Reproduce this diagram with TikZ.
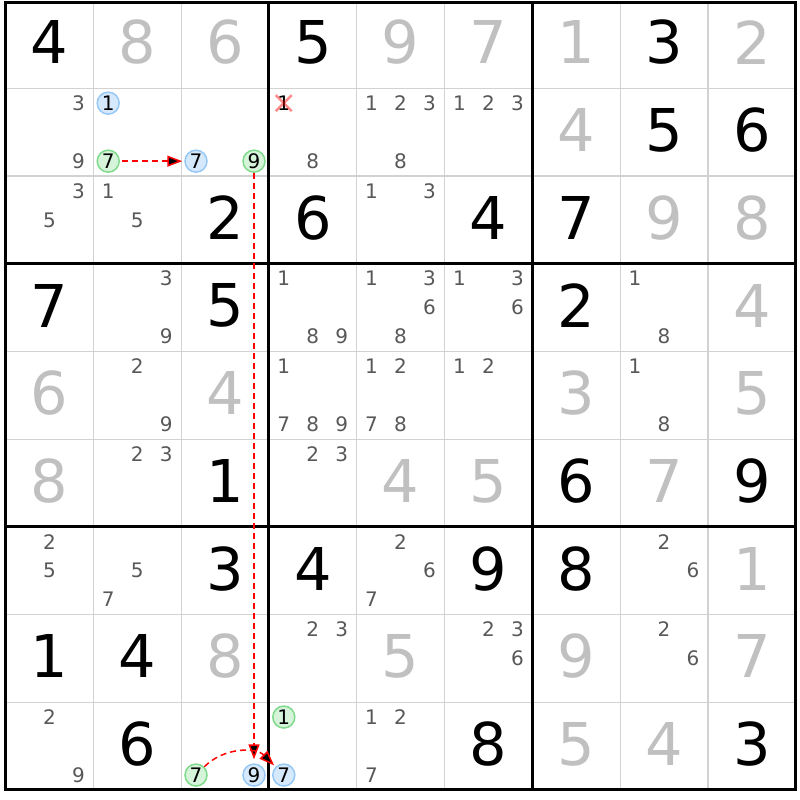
\documentclass[tikz,border=0pt]{standalone}
\usepackage{fontspec}
\setmainfont{DejaVu Sans}
\usetikzlibrary{arrows.meta,calc}
\definecolor{clrgiven}{RGB}{192,192,192}
\definecolor{clrcand}{RGB}{88,88,88}
\definecolor{clrgrid}{RGB}{210,210,210}
\definecolor{clronfill}{RGB}{214,244,218}
\definecolor{clrondraw}{RGB}{128,218,140}
\definecolor{clrofffill}{RGB}{214,233,252}
\definecolor{clroffdraw}{RGB}{150,200,245}
\newcommand{\cellx}[1]{5.5+(#1-0.5)*87.8}
\newcommand{\celly}[1]{0.6+(#1-0.5)*87.7}

\begin{document}
\begin{tikzpicture}[x=1pt,y=-1pt,
  thinline/.style={draw=clrgrid,line width=1.2pt},
  boxline/.style={draw=black,line width=3pt},
  big/.style={font=\fontsize{59}{59}\selectfont,inner sep=0pt},
  cand/.style={font=\fontsize{20}{20}\selectfont,inner sep=0pt,text=clrcand},
  oncand/.style={font=\fontsize{20}{20}\selectfont,circle,inner sep=0pt,minimum size=22pt,
    line width=1.5pt,draw=clrondraw,fill=clronfill},
  offcand/.style={font=\fontsize{20}{20}\selectfont,circle,inner sep=0pt,minimum size=22pt,
    line width=1.5pt,draw=clroffdraw,fill=clrofffill},
  link/.style={draw=red,line width=1.5pt,dash pattern=on 6pt off 4pt,
    -{Triangle[length=15pt,width=11pt]}}]
\useasboundingbox (0,0) rectangle (800,800);
% grid
\foreach \i in {1,2,4,5,7,8} {
  \draw[thinline] ({5.5+87.8*\i},2.5) -- ({5.5+87.8*\i},789.9);
  \draw[thinline] (5.5,{0.6+87.7*\i}) -- (795.7,{0.6+87.7*\i});
}
\foreach \i in {3,6} {
  \draw[boxline] ({5.5+87.8*\i},2.5) -- ({5.5+87.8*\i},789.9);
  \draw[boxline] (5.5,{0.6+87.7*\i}) -- (795.7,{0.6+87.7*\i});
}
\draw[boxline] (5.5,2.5) rectangle (795.7,789.9);
% placed digits
\foreach \r/\c/\d/\k in {1/1/4/black,1/2/8/clrgiven,1/3/6/clrgiven,1/4/5/black,1/5/9/clrgiven,
  1/6/7/clrgiven,1/7/1/clrgiven,1/8/3/black,1/9/2/clrgiven,
  2/7/4/clrgiven,2/8/5/black,2/9/6/black,
  3/3/2/black,3/4/6/black,3/6/4/black,3/7/7/black,3/8/9/clrgiven,3/9/8/clrgiven,
  4/1/7/black,4/3/5/black,4/7/2/black,4/9/4/clrgiven,
  5/1/6/clrgiven,5/3/4/clrgiven,5/7/3/clrgiven,5/9/5/clrgiven,
  6/1/8/clrgiven,6/3/1/black,6/5/4/clrgiven,6/6/5/clrgiven,6/7/6/black,6/8/7/clrgiven,6/9/9/black,
  7/3/3/black,7/4/4/black,7/6/9/black,7/7/8/black,7/9/1/clrgiven,
  8/1/1/black,8/2/4/black,8/3/8/clrgiven,8/5/5/clrgiven,8/7/9/clrgiven,8/9/7/clrgiven,
  9/2/6/black,9/6/8/black,9/7/5/clrgiven,9/8/4/clrgiven,9/9/3/black}
  \node[big,text=\k] at ({\cellx{\c}},{\celly{\r}-2}) {\d};
% pencil marks
\foreach \r/\c/\n in {2/1/3,2/1/9,2/4/8,2/5/1,2/5/2,2/5/3,2/5/8,2/6/1,2/6/2,2/6/3,
  3/1/3,3/1/5,3/2/1,3/2/5,3/5/1,3/5/3,
  4/2/3,4/2/9,4/4/1,4/4/8,4/4/9,4/5/1,4/5/3,4/5/6,4/5/8,4/6/1,4/6/3,4/6/6,4/8/1,4/8/8,
  5/2/2,5/2/9,5/4/1,5/4/7,5/4/8,5/4/9,5/5/1,5/5/2,5/5/7,5/5/8,5/6/1,5/6/2,5/8/1,5/8/8,
  6/2/2,6/2/3,6/4/2,6/4/3,
  7/1/2,7/1/5,7/2/5,7/2/7,7/5/2,7/5/6,7/5/7,7/8/2,7/8/6,
  8/4/2,8/4/3,8/6/2,8/6/3,8/6/6,8/8/2,8/8/6,
  9/1/2,9/1/9,9/5/1,9/5/2,9/5/7}
  \node[cand] at ({\cellx{\c}+(mod(\n-1,3)-1)*29},{\celly{\r}+(floor((\n-1)/3)-1)*29}) {\n};
% chain
\node[offcand] (r2c2n1) at (108.2,103.15) {1};
\node[oncand] (r2c2n7) at (108.2,161.15) {7};
\node[offcand] (r2c3n7) at (196.0,161.15) {7};
\node[oncand] (r2c3n9) at (254.0,161.15) {9};
\node[oncand] (r9c3n7) at (196.0,775.05) {7};
\node[offcand] (r9c3n9) at (254.0,775.05) {9};
\node[oncand] (r9c4n1) at (283.8,717.05) {1};
\node[offcand] (r9c4n7) at (283.8,775.05) {7};
\node[font=\fontsize{20}{20}\selectfont,inner sep=0pt] (r2c4n1) at (283.8,103.15) {1};
\draw[red,line width=2.5pt,opacity=0.45]
  ($(r2c4n1)+(-8,-8)$) -- ($(r2c4n1)+(8,8)$)
  ($(r2c4n1)+(-8,8)$) -- ($(r2c4n1)+(8,-8)$);
\path[link]
  (r2c2n7) edge[shorten <=2pt,shorten >=2pt] (r2c3n7)
  (r2c3n9) edge[shorten >=4pt] (r9c3n9)
  (r9c3n7) edge[out=45,in=135,shorten >=2pt] (r9c4n7);
\end{tikzpicture}
\end{document}
